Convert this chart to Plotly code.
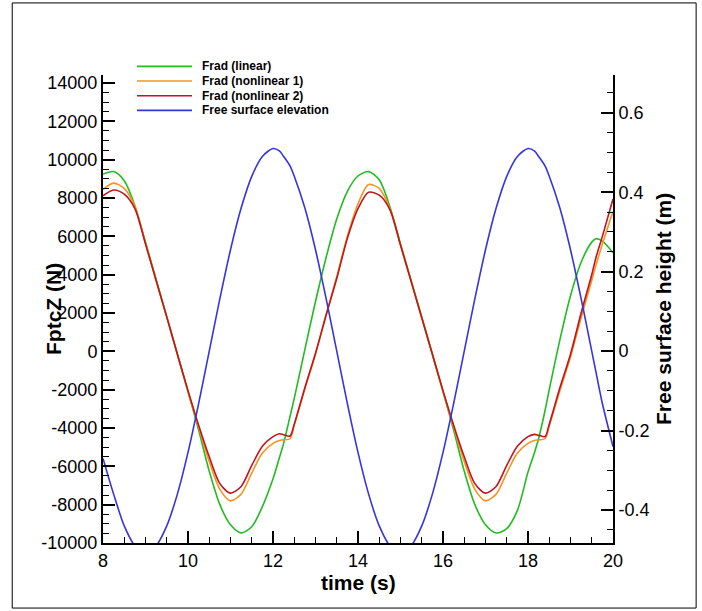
import plotly.graph_objects as go

# ---- data ----
time_s = [8.0, 8.25, 8.5, 8.75, 9.0, 9.25, 9.5, 9.75, 10.0, 10.25, 10.5, 10.75,
          11.0, 11.25, 11.5, 11.75, 12.0, 12.15, 12.25, 12.4, 12.5, 12.75, 13.0,
          13.25, 13.5, 13.75, 14.0, 14.25, 14.5, 14.75, 15.0, 15.25, 15.5, 15.75,
          16.0, 16.25, 16.5, 16.75, 17.0, 17.25, 17.5, 17.75, 18.0, 18.15, 18.25,
          18.4, 18.5, 18.75, 19.0, 19.25, 19.5, 19.6, 19.75, 20.0]

frad_linear = [9250, 9380, 8900, 7600, 5700, 3750, 1800, -150, -2100, -4100, -6250, -8000,
               -9050, -9470, -9150, -8100, -6650, -5550, -4800, -3400, -2450, 100, 2600,
               4900, 6900, 8350, 9150, 9380, 8950, 7550, 5600, 3700, 1800, -150,
               -2100, -4100, -6250, -8000, -9050, -9480, -9250, -8300, -6300, -5300, -4550,
               -3100, -2000, 600, 2900, 4650, 5700, 5880, 5750, 5150]

frad_nonlin1 = [8450, 8780, 8500, 7550, 5650, 3700, 1800, -150, -2100, -3950, -5750, -7200,
                -7800, -7450, -6350, -5300, -4800, -4650, -4620, -4560, -3850, -1950, -150,
                1900, 3900, 6000, 7700, 8700, 8500, 7450, 5550, 3650, 1750, -150,
                -2100, -3950, -5750, -7200, -7800, -7450, -6350, -5300, -4800, -4650, -4620,
                -4560, -3900, -2050, -300, 1750, 3700, 4500, 5600, 7300]

frad_nonlin2 = [8120, 8420, 8200, 7450, 5600, 3700, 1800, -150, -2050, -3850, -5500, -6900,
                -7400, -7050, -5950, -4950, -4450, -4300, -4350, -4420, -3800, -1900, -100,
                1900, 3800, 5900, 7450, 8300, 8150, 7400, 5550, 3650, 1750, -150,
                -2050, -3850, -5500, -6900, -7400, -7050, -5950, -4950, -4450, -4330, -4380,
                -4450, -3800, -1900, -150, 2000, 4000, 4900, 6000, 7950]

elevation = [-0.27, -0.36, -0.44, -0.49, -0.51, -0.49, -0.44, -0.36, -0.255, -0.132, 0.0, 0.132,
             0.255, 0.36, 0.44, 0.49, 0.51, 0.504, 0.49, 0.466, 0.44, 0.36, 0.255,
             0.132, 0.0, -0.132, -0.255, -0.36, -0.44, -0.49, -0.51, -0.49, -0.44, -0.36,
             -0.255, -0.132, 0.0, 0.132, 0.255, 0.36, 0.44, 0.49, 0.51, 0.504, 0.49,
             0.466, 0.44, 0.36, 0.255, 0.132, 0.0, -0.053, -0.132, -0.24]

series_names = ["Frad (linear)", "Frad (nonlinear 1)", "Frad (nonlinear 2)", "Free surface elevation"]

x_ticks = [8, 10, 12, 14, 16, 18, 20]
x_ticktext = ["8", "10", "12", "14", "16", "18", "20"]
y_ticks = [14000, 12000, 10000, 8000, 6000, 4000, 2000, 0, -2000, -4000, -6000, -8000, -10000]
y_ticktext = ["14000", "12000", "10000", "8000", "6000", "4000", "2000", "0",
              "-2000", "-4000", "-6000", "-8000", "-10000"]
y2_ticks = [0.6, 0.4, 0.2, 0.0, -0.2, -0.4]
y2_ticktext = ["0.6", "0.4", "0.2", "0", "-0.2", "-0.4"]

# ---- figure ----
FONT = "Liberation Sans, Arial, sans-serif"
colors = ["#22bb22", "#f7931e", "#c0141e", "#3535dd"]

fig = go.Figure()
for name, vals, col in zip(series_names[:3], [frad_linear, frad_nonlin1, frad_nonlin2], colors[:3]):
    fig.add_trace(go.Scatter(x=time_s, y=vals, name=name, mode="lines",
                             line=dict(color=col, width=1.6, shape="spline", smoothing=0.8),
                             yaxis="y", showlegend=False))
fig.add_trace(go.Scatter(x=time_s, y=elevation, name=series_names[3], mode="lines",
                         line=dict(color=colors[3], width=1.6, shape="spline", smoothing=0.8),
                         yaxis="y2", showlegend=False))

axis_common = dict(showgrid=False, zeroline=False, showline=True, linecolor="black",
                   linewidth=2, ticks="inside", ticklen=12, tickwidth=2, tickcolor="black",
                   tickfont=dict(family=FONT, size=18, color="black"))

fig.update_layout(
    width=702, height=611,
    margin=dict(l=103, r=89, t=75, b=68),
    paper_bgcolor="white", plot_bgcolor="white",
    font=dict(family=FONT, color="black"),
    showlegend=False,
    xaxis=dict(range=[8, 20], tickvals=x_ticks, ticktext=x_ticktext,
               minor=dict(ticks="inside", dtick=0.5, ticklen=6, tickwidth=1, tickcolor="black"),
               **axis_common),
    yaxis=dict(range=[-10000, 14420], tickvals=y_ticks, ticktext=y_ticktext,
               minor=dict(ticks="inside", dtick=500, ticklen=6, tickwidth=1, tickcolor="black"),
               **axis_common),
    yaxis2=dict(range=[-0.483, 0.695], overlaying="y", side="right",
                tickvals=y2_ticks, ticktext=y2_ticktext,
                minor=dict(ticks="inside", dtick=0.05, ticklen=6, tickwidth=1, tickcolor="black"),
                **axis_common),
)

# custom legend (compact rows like the reference)
leg_rows_y = [1.0184, 0.9872, 0.9558, 0.9244]
for name, col, yy in zip(series_names, colors, leg_rows_y):
    fig.add_shape(type="line", xref="paper", yref="paper", x0=0.0667, x1=0.1745, y0=yy, y1=yy,
                  line=dict(color=col, width=1.6))
    fig.add_annotation(text=name, xref="paper", yref="paper", x=0.1902, y=yy,
                       xanchor="left", yanchor="middle", showarrow=False,
                       font=dict(family=FONT, size=12, color="black", weight="bold"))

title_font = dict(family=FONT, size=21, color="black", weight="bold")
fig.add_annotation(text="time (s)", xref="paper", yref="paper", x=0.5, y=-0.084,
                   xanchor="center", yanchor="middle", showarrow=False, font=title_font)
fig.add_annotation(text="FptcZ (N)", xref="paper", yref="paper", x=-0.098, y=0.5,
                   xanchor="center", yanchor="middle", textangle=-90, showarrow=False,
                   font=title_font)
fig.add_annotation(text="Free surface height (m)", xref="paper", yref="paper", x=1.098, y=0.5,
                   xanchor="center", yanchor="middle", textangle=-90, showarrow=False,
                   font=title_font)

# outer frame
fig.add_shape(type="rect", xref="paper", yref="paper",
              x0=-0.178, x1=1.163, y0=-0.139, y1=1.154,
              line=dict(color="black", width=1), fillcolor="rgba(0,0,0,0)", layer="below")

fig.write_html("out.html")
